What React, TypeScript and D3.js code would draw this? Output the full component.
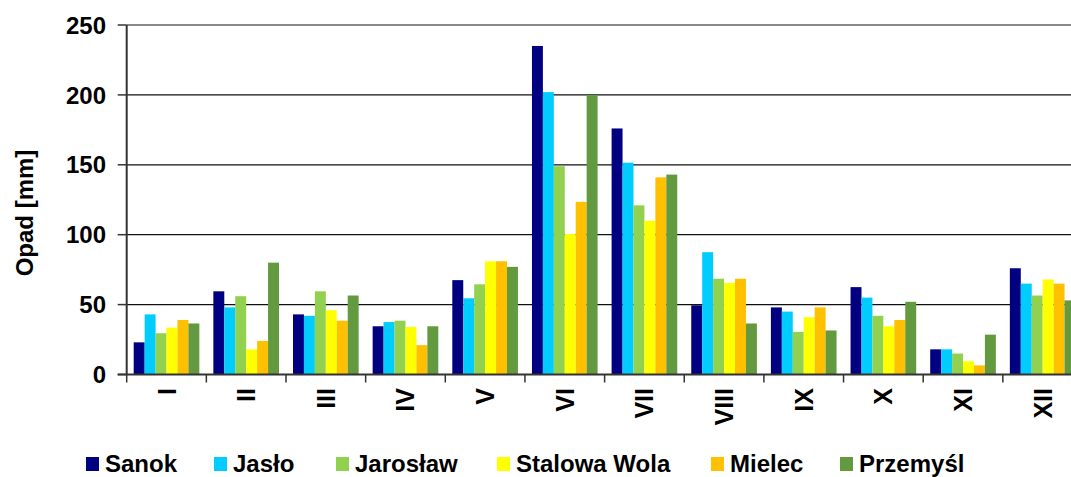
import React from 'react';
import * as d3 from 'd3';

const months = ['I', 'II', 'III', 'IV', 'V', 'VI', 'VII', 'VIII', 'IX', 'X', 'XI', 'XII'];
const stations = ['Sanok', 'Jasło', 'Jarosław', 'Stalowa Wola', 'Mielec', 'Przemyśl'];
const colors = ['#000080', '#00CCFF', '#92D050', '#FFFF00', '#FFC000', '#639A3F'];

const sanok = [23, 59.5, 43, 34.5, 67.5, 235, 176, 49.5, 48, 62.5, 18, 76];
const jaslo = [43, 48, 42, 37.5, 54.5, 202, 151.5, 87.5, 45, 55, 18, 65];
const jaroslaw = [29.5, 56, 59.5, 38.5, 64.5, 149, 121, 68.5, 30.5, 42, 15, 56.5];
const stalowaWola = [33.5, 18, 46, 34, 81, 100.5, 110, 65.5, 41, 34.5, 9.5, 68];
const mielec = [39, 24, 38.5, 21, 81, 123.5, 141, 68.5, 48, 39, 6.5, 65];
const przemysl = [36.5, 80, 56.5, 34.5, 77, 200, 143, 36.5, 31.5, 52, 28.5, 53];

const series = [sanok, jaslo, jaroslaw, stalowaWola, mielec, przemysl];
const yTicks = [0, 50, 100, 150, 200, 250];
// legend x positions (where each swatch starts)
const legendX = [86, 214, 336, 497, 711, 840];

const W = 1071;
const H = 477;
const left = 126.7;
const bandW = 79.65;
const top = 25;
const bottom = 374.5;
const font = '"Liberation Sans", Arial, sans-serif';

export default function App() {
  const x0 = d3
    .scaleBand<string>()
    .domain(months)
    .range([left, left + bandW * months.length])
    .padding(0);
  const x1 = d3
    .scaleBand<string>()
    .domain(stations)
    .range([7, bandW - 7])
    .padding(0);
  const y = d3.scaleLinear().domain([0, 250]).range([bottom, top]);

  return (
    <svg
      width={W}
      height={H}
      style={{ position: 'absolute', left: 0, top: 0, background: '#fff' }}
      fontFamily={font}
      fontWeight="bold"
    >
      {/* grid */}
      {yTicks.slice(1).map((t) => (
        <line
          key={t}
          x1={left}
          x2={W}
          y1={y(t)}
          y2={y(t)}
          stroke={t === 250 ? '#888' : '#111'}
          strokeWidth={t === 250 ? 2 : 1.2}
        />
      ))}

      {/* bars */}
      {months.map((m, i) => (
        <g key={m} transform={`translate(${x0(m)},0)`}>
          {stations.map((s, j) => (
            <rect
              key={s}
              x={x1(s)}
              y={y(series[j][i])}
              width={x1.bandwidth()}
              height={bottom - y(series[j][i])}
              fill={colors[j]}
            />
          ))}
        </g>
      ))}

      {/* y axis */}
      <line x1={left} x2={left} y1={top} y2={bottom} stroke="#333" strokeWidth={2} />
      {yTicks.map((t) => (
        <g key={t}>
          <line x1={left - 9} x2={left} y1={y(t)} y2={y(t)} stroke="#333" strokeWidth={1.5} />
          <text x={106} y={y(t)} dy="0.36em" textAnchor="end" fontSize={24} fill="#000">
            {t}
          </text>
        </g>
      ))}
      <text
        transform={`translate(33,213) rotate(-90)`}
        textAnchor="middle"
        fontSize={24}
        fill="#000"
      >
        Opad [mm]
      </text>

      {/* x axis */}
      <line x1={left - 9} x2={W} y1={bottom} y2={bottom} stroke="#333" strokeWidth={2} />
      {months.map((m) => (
        <line
          key={m}
          x1={x0(m)}
          x2={x0(m)}
          y1={bottom}
          y2={bottom + 8}
          stroke="#333"
          strokeWidth={1.5}
        />
      ))}
      {months.map((m) => (
        <text
          key={m}
          transform={`translate(${(x0(m) as number) + bandW / 2},388) rotate(-90)`}
          textAnchor="end"
          dy="0.36em"
          fontSize={25}
          fill="#000"
        >
          {m}
        </text>
      ))}

      {/* legend */}
      {stations.map((s, j) => (
        <g key={s}>
          <rect x={legendX[j]} y={457} width={13} height={14} fill={colors[j]} />
          <text x={legendX[j] + 19} y={472} fontSize={24} fill="#000">
            {s}
          </text>
        </g>
      ))}
    </svg>
  );
}
